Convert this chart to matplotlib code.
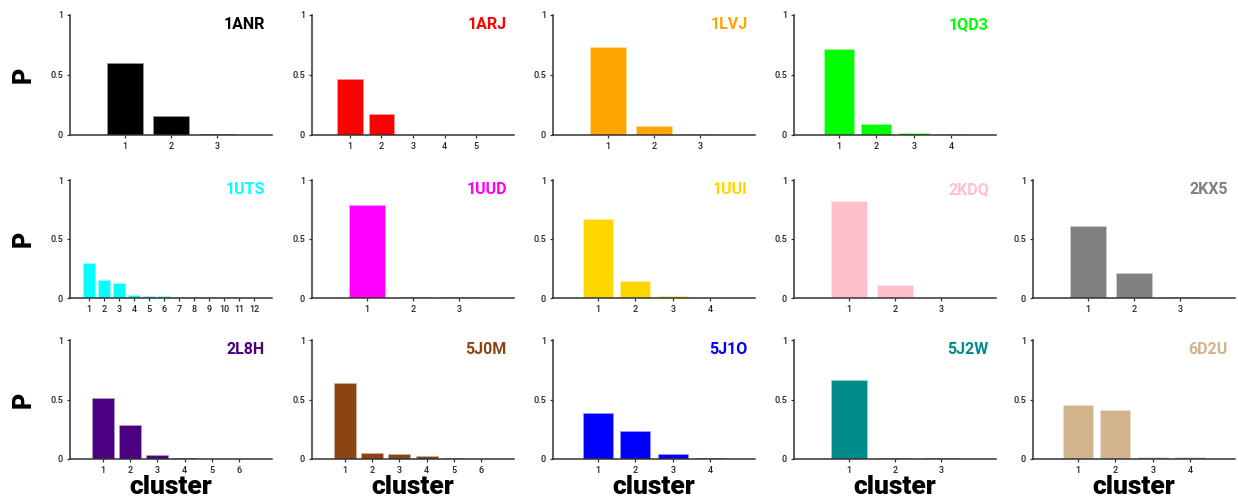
import matplotlib
matplotlib.use("Agg")
import matplotlib.pyplot as plt
from matplotlib.colors import to_rgb

plt.rcParams['font.family'] = ['Roboto', 'DejaVu Sans']

# Structure names, bar colours and cluster probabilities P for each panel
names = ["1ANR", "1ARJ", "1LVJ", "1QD3",
         "1UTS", "1UUD", "1UUI", "2KDQ", "2KX5",
         "2L8H", "5J0M", "5J1O", "5J2W", "6D2U"]

colors = ["#000000", "#ff0000", "#ffa500", "#00ff00",
          "#00ffff", "#ff00ff", "#ffd700", "#ffc0cb", "#808080",
          "#4b0082", "#8b4513", "#0000ff", "#008b8b", "#d2b48c"]

p_1anr = [0.60, 0.16, 0.012]
p_1arj = [0.467, 0.175, 0.003, 0.002, 0.001]
p_1lvj = [0.73, 0.075, 0.008]
p_1qd3 = [0.714, 0.092, 0.015, 0.012]
p_1uts = [0.30, 0.155, 0.127, 0.023, 0.020, 0.014, 0.012, 0.010, 0.008, 0.006, 0.005, 0.004]
p_1uud = [0.787, 0.010, 0.008]
p_1uui = [0.67, 0.148, 0.017, 0.003]
p_2kdq = [0.82, 0.112, 0.008]
p_2kx5 = [0.614, 0.214, 0.006]
p_2l8h = [0.513, 0.283, 0.036, 0.006, 0.004, 0.002]
p_5j0m = [0.64, 0.050, 0.042, 0.022, 0.010, 0.003]
p_5j1o = [0.39, 0.235, 0.04, 0.005]
p_5j2w = [0.66, 0.012, 0.005]
p_6d2u = [0.454, 0.409, 0.020, 0.014]

values = [p_1anr, p_1arj, p_1lvj, p_1qd3,
          p_1uts, p_1uud, p_1uui, p_2kdq, p_2kx5,
          p_2l8h, p_5j0m, p_5j1o, p_5j2w, p_6d2u]

# grid slot (row, col) of each panel; the top-right slot stays empty
slots = [(0, 0), (0, 1), (0, 2), (0, 3),
         (1, 0), (1, 1), (1, 2), (1, 3), (1, 4),
         (2, 0), (2, 1), (2, 2), (2, 3), (2, 4)]

W, H = 1238, 499
fig = plt.figure(figsize=(W / 100, H / 100), dpi=100)

col_left = [70, 312, 553, 794, 1033]
row_top = [15, 180, 340]
row_bot = [135, 298, 459]
ax_w = 202


def lighten(c, f=0.6):
    r, g, b = to_rgb(c)
    return (r + (1 - r) * f, g + (1 - g) * f, b + (1 - b) * f)


spine_col = "#333333"
for name, col, vals, (r, c) in zip(names, colors, values, slots):
    left = col_left[c] / W
    bottom = 1 - row_bot[r] / H
    height = (row_bot[r] - row_top[r]) / H
    ax = fig.add_axes([left, bottom, ax_w / W, height])
    n = len(vals)
    xs = list(range(1, n + 1))
    ax.bar(xs, vals, width=0.8, color=col, edgecolor=lighten(col),
           linewidth=0.5)
    if n > 6:
        ax.set_xlim(-0.27, n + 1.2)
    else:
        ax.set_xlim(-0.2, n + 1.2)
    ax.set_ylim(0, 1)
    ax.set_yticks([0, 0.5, 1])
    ax.set_yticklabels(["0", "0.5", "1"])
    ax.set_xticks(xs)
    ax.set_xticklabels([str(x) for x in xs])
    for s in ["top", "right"]:
        ax.spines[s].set_visible(False)
    for s in ["left", "bottom"]:
        ax.spines[s].set_color(spine_col)
        ax.spines[s].set_linewidth(1.1)
    ax.tick_params(axis="both", direction="out", length=2.5, width=0.9,
                   color=spine_col, labelsize=6.5, labelcolor="#222222", pad=2.5)
    for lab in ax.get_xticklabels() + ax.get_yticklabels():
        lab.set_fontweight("medium")
    ax.text(0.965, 0.92, name, transform=ax.transAxes, ha="right", va="center",
            color=col, fontsize=11.5, fontweight="bold")
    ax.patch.set_alpha(0)

# row labels
for r in range(3):
    yc = 1 - (row_top[r] + row_bot[r]) / 2 / H
    fig.text(24 / W, yc, "P", rotation=90, ha="center", va="center",
             fontsize=18, fontweight="black", color="black")

# column labels under the bottom row
for c in range(5):
    xc = (col_left[c] + ax_w / 2) / W
    fig.text(xc, 1 - 487 / H, "cluster", ha="center", va="center",
             fontsize=19, fontweight="black", color="black")

fig.savefig("out.png", dpi=100)
